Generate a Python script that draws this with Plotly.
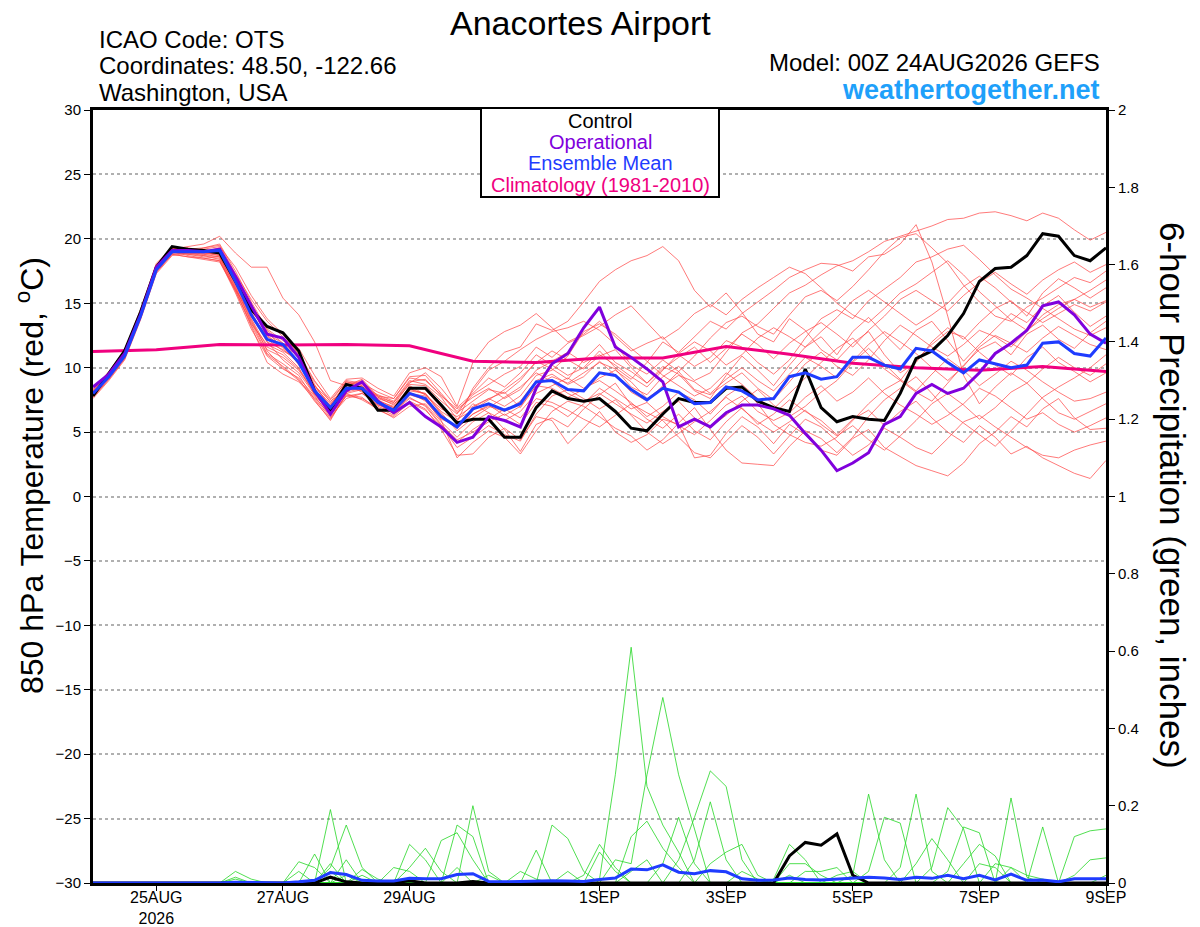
import plotly.graph_objects as go
import pandas as pd

# 6-hourly GEFS output, 00Z 24AUG2026 to 00Z 9SEP2026
times = pd.date_range("2026-08-24 00:00", periods=65, freq="6h")
clim_days = pd.date_range("2026-08-24", periods=17, freq="D")

tick_dates = ["2026-08-25", "2026-08-27", "2026-08-29", "2026-09-01",
              "2026-09-03", "2026-09-05", "2026-09-07", "2026-09-09"]
tick_text = ["25AUG<br>2026", "27AUG", "29AUG", "1SEP", "3SEP", "5SEP", "7SEP", "9SEP"]
temp_ticks = [-30, -25, -20, -15, -10, -5, 0, 5, 10, 15, 20, 25, 30]
precip_ticks = [0, 0.2, 0.4, 0.6, 0.8, 1, 1.2, 1.4, 1.6, 1.8, 2]
precip_labels = ["0", "0.2", "0.4", "0.6", "0.8", "1", "1.2", "1.4", "1.6", "1.8", "2"]

# 850 hPa temperature (C)
control = [7.8, 9.6, 11.3, 14.3, 17.8, 19.4, 19.2, 19.1,
           18.9, 16.7, 14.5, 13.2, 12.7, 11.3, 8.2, 6.7,
           8.7, 8.4, 6.7, 6.7, 8.4, 8.4, 7.1, 5.7,
           6.0, 6.0, 4.6, 4.6, 6.9, 8.2, 7.6, 7.4,
           7.6, 6.6, 5.3, 5.1, 6.4, 7.6, 7.3, 7.3,
           8.4, 8.5, 7.4, 6.9, 6.6, 9.9, 6.9, 5.8,
           6.2, 6.0, 5.9, 8.0, 10.7, 11.3, 12.5, 14.2,
           16.7, 17.7, 17.8, 18.7, 20.4, 20.2, 18.7, 18.3,
           19.3]
operational = [8.5, 9.5, 11.1, 14.1, 17.8, 19.1, 19.1, 19.0,
               19.2, 17.1, 14.8, 12.6, 12.3, 10.8, 8.2, 6.4,
               8.2, 8.9, 7.4, 6.5, 7.3, 6.2, 5.4, 4.2,
               4.6, 6.2, 5.9, 5.4, 8.4, 10.3, 11.1, 13.1,
               14.7, 11.6, 10.8, 9.9, 8.9, 5.4, 6.0, 5.4,
               6.5, 7.1, 7.1, 6.8, 6.3, 4.9, 3.6, 2.0,
               2.6, 3.4, 5.6, 6.2, 8.0, 8.7, 8.0, 8.4,
               9.6, 11.1, 11.9, 12.9, 14.8, 15.1, 14.1, 12.6,
               11.9]
ens_mean = [8.0, 9.3, 10.9, 14.0, 17.6, 19.0, 19.0, 19.0,
            19.1, 16.7, 14.1, 12.2, 11.8, 10.4, 8.2, 6.9,
            8.4, 8.4, 7.3, 6.7, 8.0, 7.6, 6.2, 5.4,
            6.8, 7.2, 6.7, 7.2, 8.9, 9.0, 8.3, 8.2,
            9.6, 9.4, 8.3, 7.5, 8.4, 8.1, 7.2, 7.3,
            8.5, 8.2, 7.5, 7.6, 9.3, 9.6, 9.1, 9.3,
            10.8, 10.8, 10.2, 9.9, 11.5, 11.3, 10.4, 9.6,
            10.6, 10.3, 10.0, 10.2, 11.9, 12.0, 11.1, 10.9,
            12.3]
climatology = [11.25, 11.4, 11.8, 11.75, 11.8, 11.7, 10.5, 10.4, 10.75,
               10.75, 11.65, 11.05, 10.35, 10.0, 9.8, 10.1, 9.7]

t_mem01 = [7.9, 9.4, 11.2, 14.3, 17.9, 19.2, 19.4, 19.6, 20.2, 18.9, 17.8, 17.8, 15.4, 14.1, 12.0, 9.0,
           8.6, 9.1, 7.8, 7.6, 9.2, 9.0, 7.9, 6.5, 7.4, 8.3, 8.0, 9.0, 10.5, 9.9, 9.1, 10.6,
           11.8, 10.4, 9.7, 8.8, 10.1, 9.5, 8.2, 7.6, 9.4, 10.9, 9.8, 8.6, 10.2, 11.6, 12.4, 11.0,
           12.8, 13.9, 12.6, 11.4, 12.9, 13.6, 12.1, 10.5, 11.8, 13.0, 14.2, 13.5, 14.8, 15.6, 14.3, 13.2, 14.0]
t_mem02 = [8.2, 9.6, 11.0, 13.9, 17.5, 19.0, 18.9, 18.8, 18.6, 16.2, 13.6, 11.4, 10.8, 9.8, 8.0, 7.0,
           8.9, 8.6, 7.1, 6.8, 8.3, 8.0, 6.6, 5.8, 8.4, 10.0, 11.2, 11.6, 13.4, 12.9, 13.6, 15.1,
           16.7, 17.6, 18.3, 18.7, 19.4, 18.3, 16.0, 14.7, 15.8, 14.3, 12.6, 12.0, 13.8, 12.9, 11.4, 10.6,
           11.9, 12.8, 11.0, 9.6, 10.4, 12.0, 13.1, 12.2, 13.5, 14.6, 15.2, 14.0, 15.8, 16.9, 16.2, 15.4, 16.2]
t_mem03 = [8.0, 9.2, 10.8, 14.1, 17.7, 19.1, 19.0, 18.9, 18.8, 17.2, 14.9, 12.9, 11.9, 10.2, 8.6, 7.4,
           8.2, 8.9, 7.5, 6.6, 8.6, 7.9, 6.8, 6.2, 7.0, 7.6, 8.1, 6.9, 8.6, 9.3, 8.8, 9.6,
           10.4, 9.9, 8.5, 7.9, 9.3, 10.1, 9.0, 9.6, 11.2, 12.7, 13.4, 14.6, 15.8, 16.4, 17.2, 17.9,
           18.3, 19.0, 19.8, 20.2, 20.6, 21.0, 21.5, 21.6, 22.0, 22.1, 21.8, 21.4, 22.0, 21.6, 20.7, 19.9, 20.5]
t_mem04 = [7.7, 9.1, 10.7, 13.8, 17.4, 18.8, 18.6, 18.4, 18.2, 16.0, 13.2, 10.4, 9.5, 8.9, 7.6, 6.1,
           7.8, 7.6, 6.9, 6.3, 7.4, 6.8, 5.2, 3.2, 3.3, 4.6, 5.3, 4.4, 6.2, 5.9, 4.1, 5.3,
           6.6, 5.0, 4.2, 4.8, 6.0, 5.6, 3.0, 3.2, 4.9, 6.2, 5.4, 4.1, 5.6, 4.8, 3.6, 3.2,
           4.5, 5.2, 3.8, 3.1, 2.4, 2.0, 1.6, 2.6, 4.1, 5.0, 6.2, 5.4, 6.8, 7.6, 6.1, 5.2, 5.3]
t_mem05 = [8.1, 9.5, 11.3, 14.2, 17.8, 19.2, 19.3, 19.1, 19.0, 16.6, 14.0, 12.0, 10.6, 9.6, 7.9, 6.5,
           8.0, 7.5, 6.8, 6.1, 7.0, 7.2, 5.8, 4.6, 5.8, 6.5, 5.2, 3.5, 5.6, 6.1, 5.4, 6.8,
           7.9, 8.8, 7.1, 6.0, 5.3, 6.4, 5.1, 4.4, 5.8, 6.9, 5.6, 6.4, 7.5, 6.6, 5.9, 4.8,
           6.0, 6.7, 5.5, 6.6, 7.4, 6.1, 5.0, 4.2, 5.5, 4.6, 3.3, 3.9, 3.0, 2.4, 1.8, 1.4, 2.8]
t_mem06 = [8.3, 9.7, 11.4, 14.5, 18.1, 19.3, 19.1, 19.2, 19.4, 17.8, 15.6, 13.8, 12.6, 11.0, 8.7, 6.8,
           8.6, 9.0, 7.7, 7.1, 8.8, 9.6, 8.4, 6.9, 8.0, 9.2, 8.5, 9.6, 11.0, 10.2, 9.4, 10.0,
           11.3, 10.0, 9.1, 10.4, 12.0, 11.2, 12.4, 13.6, 13.0, 14.2, 15.1, 16.0, 17.0, 17.6, 18.1, 18.0,
           17.5, 18.6, 18.8, 19.6, 21.1, 18.2, 14.0, 9.4, 7.2, 8.5, 9.6, 8.8, 9.9, 10.8, 10.0, 9.4, 10.3]
t_mem07 = [7.8, 9.3, 10.9, 13.9, 17.6, 18.9, 18.8, 18.6, 18.5, 16.0, 14.3, 12.2, 11.3, 10.6, 8.5, 7.2,
           8.4, 8.2, 7.6, 7.2, 8.1, 7.4, 6.0, 5.5, 6.9, 7.6, 7.0, 7.8, 9.4, 9.8, 10.9, 12.8,
           13.4, 12.6, 11.5, 10.5, 9.4, 8.6, 7.8, 8.4, 9.6, 8.7, 7.6, 6.8, 8.0, 9.2, 10.4, 11.5,
           12.3, 11.0, 9.9, 9.0, 10.6, 11.8, 12.8, 12.4, 11.2, 10.2, 9.4, 10.8, 11.6, 10.4, 9.7, 8.9, 9.6]
t_mem08 = [8.0, 9.3, 11.1, 14.0, 17.6, 18.9, 19.1, 19.0, 19.3, 17.0, 14.6, 12.4, 11.7, 10.9, 8.4, 6.6,
           8.3, 8.4, 7.0, 6.5, 8.0, 7.8, 6.1, 5.3, 6.4, 7.1, 6.3, 7.0, 8.6, 8.4, 7.7, 8.3,
           9.2, 9.8, 8.9, 7.6, 8.5, 9.7, 10.9, 12.3, 13.5, 14.0, 13.2, 12.6, 14.1, 15.5, 16.0, 15.2,
           16.3, 17.6, 19.0, 20.1, 20.4, 19.3, 18.1, 16.4, 15.1, 14.0, 13.6, 14.7, 15.4, 16.2, 17.0, 16.6, 17.5]
t_mem09 = [8.1, 9.4, 11.0, 14.2, 17.7, 19.0, 18.7, 18.5, 18.3, 15.8, 13.0, 10.9, 9.9, 9.2, 7.8, 6.2,
           7.6, 8.0, 7.3, 6.6, 7.6, 7.1, 5.6, 4.4, 5.0, 5.8, 6.4, 5.6, 7.3, 7.0, 6.2, 7.2,
           8.4, 7.6, 6.8, 7.3, 6.2, 5.5, 4.8, 5.9, 7.1, 7.8, 6.6, 5.9, 6.5, 7.7, 8.6, 7.4,
           8.1, 9.2, 8.0, 7.1, 6.4, 5.6, 6.3, 7.2, 8.4, 7.8, 6.9, 6.0, 6.5, 5.6, 5.0, 5.5, 6.1]
t_mem10 = [8.2, 9.5, 11.2, 14.0, 17.8, 19.1, 18.9, 19.3, 19.6, 17.5, 15.1, 13.0, 12.1, 11.5, 9.4, 7.6,
           9.1, 9.2, 8.4, 7.8, 9.6, 10.0, 9.3, 7.0, 10.4, 12.0, 12.8, 13.3, 14.2, 13.1, 12.0, 12.6,
           13.6, 12.4, 11.3, 11.9, 12.4, 11.0, 10.1, 10.8, 12.1, 11.6, 10.4, 9.5, 10.6, 12.3, 13.8, 14.5,
           13.8, 15.2, 16.1, 17.0, 18.2, 18.6, 19.2, 19.5, 18.4, 17.2, 16.1, 15.4, 14.6, 13.8, 13.0, 12.5, 13.1]
t_mem11 = [7.6, 9.0, 10.6, 13.7, 17.3, 18.7, 18.9, 18.9, 18.7, 16.3, 13.5, 11.1, 10.3, 9.4, 7.5, 5.9,
           8.0, 8.3, 7.2, 6.4, 7.9, 7.5, 5.9, 3.0, 4.2, 5.1, 4.6, 3.3, 5.1, 6.6, 7.4, 7.0,
           6.2, 5.3, 4.7, 3.6, 4.4, 5.7, 6.9, 5.2, 3.6, 2.6, 2.5, 2.4, 3.9, 5.1, 4.5, 3.4,
           4.6, 6.2, 7.5, 8.4, 9.3, 8.0, 6.6, 5.7, 4.8, 3.9, 5.1, 6.4, 7.7, 8.5, 9.2, 10.0, 11.0]
t_mem12 = [7.9, 9.3, 10.9, 14.1, 17.5, 18.9, 19.0, 19.1, 19.0, 16.4, 13.8, 11.6, 11.0, 9.9, 8.1, 6.9,
           8.7, 8.1, 7.4, 7.0, 8.5, 8.3, 6.9, 5.9, 7.2, 6.5, 5.9, 6.6, 8.0, 8.6, 9.2, 8.4,
           9.0, 8.2, 7.3, 6.2, 7.0, 8.1, 7.5, 6.4, 7.8, 8.6, 7.2, 5.6, 4.8, 4.2, 3.9, 4.6,
           5.9, 7.2, 8.3, 9.0, 8.1, 7.4, 8.8, 10.2, 11.4, 12.0, 11.0, 12.6, 13.3, 12.2, 11.5, 12.7, 13.6]
t_mem13 = [8.0, 9.4, 11.1, 14.0, 17.6, 19.0, 18.8, 18.7, 18.4, 15.9, 13.4, 11.8, 11.2, 10.0, 7.9, 6.6,
           8.1, 8.4, 7.8, 7.3, 8.7, 8.6, 7.4, 6.4, 8.2, 9.8, 10.5, 11.4, 12.2, 12.8, 13.1, 13.6,
           12.9, 11.8, 10.2, 9.5, 10.6, 9.7, 8.3, 7.9, 8.8, 9.6, 8.4, 7.5, 8.9, 10.3, 11.2, 10.1,
           9.4, 10.6, 12.1, 13.3, 12.5, 11.6, 10.9, 11.8, 12.9, 12.4, 11.6, 12.8, 14.1, 14.9, 15.3, 16.0, 16.8]
t_mem14 = [7.8, 9.2, 10.8, 13.8, 17.4, 18.8, 18.6, 18.5, 18.3, 16.1, 13.3, 11.0, 10.1, 9.1, 7.4, 6.0,
           7.9, 7.7, 6.7, 6.2, 7.3, 6.7, 5.4, 4.2, 5.2, 6.0, 6.8, 6.1, 7.6, 7.3, 6.7, 6.0,
           5.4, 6.3, 7.2, 6.5, 5.9, 4.6, 3.4, 3.0, 4.3, 5.5, 4.6, 3.3, 4.7, 6.0, 5.4, 4.3,
           3.2, 4.0, 5.3, 4.6, 3.8, 3.3, 4.5, 5.8, 6.3, 5.4, 4.6, 3.8, 3.2, 3.0, 3.6, 4.0, 4.3]
t_mem15 = [8.3, 9.6, 11.3, 14.4, 18.0, 19.2, 19.0, 18.8, 18.9, 16.8, 14.4, 12.8, 11.5, 10.3, 8.3, 7.1,
           8.8, 8.5, 7.9, 7.4, 9.0, 8.7, 7.7, 6.0, 6.7, 7.5, 8.3, 9.2, 10.4, 11.3, 10.6, 9.9,
           10.9, 11.4, 10.0, 8.8, 9.9, 10.8, 11.6, 10.4, 11.5, 12.6, 11.8, 10.7, 11.9, 12.8, 13.5, 12.6,
           11.6, 12.9, 14.0, 15.3, 16.0, 15.2, 14.4, 15.6, 16.6, 17.4, 16.5, 15.7, 16.8, 17.6, 18.2, 17.4, 18.0]
t_mem16 = [7.7, 9.1, 10.7, 13.9, 17.5, 18.9, 19.2, 19.0, 18.7, 16.5, 14.2, 12.0, 11.4, 10.5, 8.2, 6.4,
           8.2, 8.6, 7.5, 6.9, 8.4, 7.9, 6.5, 5.1, 6.1, 6.9, 7.7, 8.5, 9.6, 8.9, 8.0, 7.4,
           8.0, 7.2, 6.4, 5.7, 6.6, 7.4, 6.1, 5.4, 6.3, 7.4, 8.3, 7.1, 6.2, 7.0, 8.1, 9.0,
           10.4, 11.5, 10.3, 9.1, 8.2, 9.5, 10.7, 9.8, 8.6, 9.5, 10.5, 9.8, 8.9, 8.1, 7.4, 7.6, 8.1]
t_mem17 = [8.1, 9.4, 11.1, 14.2, 17.7, 19.1, 19.2, 19.3, 19.5, 17.3, 15.3, 13.6, 12.4, 11.1, 9.0, 7.3,
           9.0, 8.8, 8.1, 7.6, 9.3, 9.4, 8.0, 6.6, 7.9, 8.7, 9.5, 10.1, 11.6, 10.8, 11.9, 12.5,
           13.2, 14.1, 14.8, 13.5, 12.2, 13.0, 14.2, 14.9, 14.1, 15.3, 16.2, 17.0, 17.8, 17.3, 16.2, 15.0,
           14.1, 13.5, 14.6, 15.8, 16.5, 17.4, 18.3, 17.2, 15.9, 14.8, 13.7, 12.9, 13.8, 14.6, 15.3, 14.7, 15.2]
t_mem18 = [7.9, 9.3, 11.0, 14.1, 17.6, 19.0, 18.9, 18.7, 18.6, 16.2, 13.7, 11.3, 10.0, 9.0, 7.7, 6.3,
           7.8, 8.0, 7.1, 6.7, 7.7, 7.0, 5.5, 3.8, 4.6, 5.5, 4.8, 4.3, 6.4, 7.8, 8.3, 7.6,
           6.8, 7.5, 6.3, 5.0, 4.1, 4.9, 5.8, 6.6, 7.7, 6.8, 5.8, 5.0, 5.8, 6.7, 5.6, 4.7,
           5.5, 4.4, 3.6, 4.7, 5.9, 7.2, 8.0, 7.1, 6.0, 6.9, 8.1, 8.8, 7.6, 6.5, 6.0, 6.6, 7.2]
t_mem19 = [8.2, 9.5, 11.2, 14.3, 17.9, 19.3, 19.1, 19.0, 18.9, 16.9, 14.8, 12.6, 11.9, 10.9, 8.9, 7.5,
           8.9, 8.7, 7.7, 7.3, 8.9, 9.1, 7.8, 6.8, 7.7, 8.4, 7.6, 8.3, 9.8, 10.5, 11.2, 10.4,
           11.0, 10.2, 9.3, 8.5, 9.8, 11.1, 12.0, 11.3, 10.2, 11.0, 12.3, 13.1, 12.4, 11.6, 12.8, 13.9,
           15.2, 16.0, 15.1, 14.2, 13.3, 14.1, 15.0, 16.3, 17.1, 16.2, 15.1, 14.3, 13.5, 14.2, 14.9, 14.4, 15.1]
t_mem20 = [8.0, 9.4, 11.0, 14.0, 17.6, 19.1, 19.0, 19.0, 19.1, 16.7, 14.0, 12.5, 11.6, 10.4, 8.6, 7.0,
           8.5, 8.3, 7.3, 6.9, 8.2, 8.0, 6.4, 5.3, 6.4, 7.0, 6.6, 7.4, 9.0, 9.5, 8.7, 9.3,
           10.5, 9.4, 8.1, 7.4, 8.6, 9.4, 8.9, 8.0, 9.1, 10.0, 9.0, 8.2, 9.5, 10.8, 10.1, 9.2,
           10.5, 11.8, 12.8, 12.0, 11.1, 10.0, 9.0, 10.1, 11.6, 12.5, 11.9, 11.2, 12.3, 13.2, 12.5, 11.8, 11.4]

# 6-hour precipitation (inches)
control_precip = [0, 0, 0, 0, 0, 0, 0, 0, 0, 0, 0, 0, 0, 0, 0, 0.015,
                  0.003, 0, 0, 0, 0.006, 0, 0, 0, 0.004, 0, 0, 0, 0, 0, 0, 0,
                  0, 0, 0, 0, 0, 0, 0, 0, 0, 0, 0, 0, 0.07, 0.105, 0.098, 0.127,
                  0.02, 0, 0, 0, 0, 0, 0, 0, 0, 0, 0, 0, 0, 0, 0, 0, 0]
mean_precip = [0, 0, 0, 0, 0, 0, 0, 0, 0, 0.002, 0.001, 0, 0, 0.003, 0.007, 0.027,
               0.022, 0.007, 0.005, 0.005, 0.012, 0.011, 0.011, 0.022, 0.024, 0.004, 0.003, 0.004, 0.005, 0.006, 0.005, 0.004,
               0.009, 0.013, 0.036, 0.034, 0.047, 0.028, 0.024, 0.032, 0.029, 0.011, 0.007, 0.008, 0.013, 0.009, 0.008, 0.01,
               0.013, 0.015, 0.013, 0.009, 0.015, 0.012, 0.02, 0.011, 0.02, 0.008, 0.023, 0.007, 0.008, 0.003, 0.011, 0.011, 0.011]

p_mem01 = [0, 0, 0, 0, 0, 0, 0, 0, 0, 0.03, 0.01, 0, 0, 0, 0, 0,
           0, 0, 0, 0, 0, 0, 0, 0, 0, 0, 0, 0, 0, 0, 0, 0.02,
           0.1, 0.04, 0, 0, 0, 0, 0, 0, 0, 0, 0, 0, 0, 0, 0, 0,
           0, 0, 0, 0, 0, 0, 0.03, 0.145, 0.13, 0, 0, 0, 0, 0, 0, 0, 0]
p_mem02 = [0, 0, 0, 0, 0, 0, 0, 0, 0, 0.015, 0, 0, 0, 0, 0, 0,
           0, 0, 0, 0, 0, 0, 0, 0, 0, 0, 0, 0, 0, 0, 0, 0,
           0.08, 0.03, 0, 0, 0, 0, 0, 0, 0, 0, 0, 0, 0, 0, 0, 0,
           0, 0, 0, 0, 0, 0, 0, 0.05, 0.1, 0.07, 0, 0, 0, 0, 0, 0, 0]
p_mem03 = [0, 0, 0, 0, 0, 0, 0, 0, 0, 0.01, 0, 0, 0, 0, 0, 0,
           0, 0, 0, 0, 0, 0, 0, 0, 0, 0, 0, 0, 0, 0, 0, 0,
           0.01, 0.28, 0.61, 0.25, 0.15, 0.08, 0, 0, 0, 0, 0, 0, 0, 0, 0, 0,
           0, 0, 0, 0, 0, 0, 0, 0, 0.05, 0.04, 0, 0, 0, 0, 0, 0, 0]
p_mem04 = [0, 0, 0, 0, 0, 0, 0, 0, 0, 0, 0, 0, 0, 0.055, 0.04, 0,
           0, 0, 0, 0, 0, 0, 0, 0, 0, 0, 0, 0, 0, 0, 0, 0,
           0, 0.06, 0.05, 0.28, 0.48, 0.28, 0.14, 0, 0, 0, 0, 0, 0, 0, 0, 0,
           0, 0, 0, 0, 0, 0, 0, 0, 0, 0.05, 0.04, 0, 0, 0, 0, 0, 0]
p_mem05 = [0, 0, 0, 0, 0, 0, 0, 0, 0, 0, 0, 0, 0, 0.03, 0, 0.05,
           0, 0, 0, 0, 0, 0, 0, 0, 0, 0, 0, 0, 0, 0, 0, 0,
           0, 0, 0.12, 0.16, 0.09, 0.04, 0, 0, 0, 0, 0, 0, 0, 0, 0, 0,
           0, 0, 0, 0, 0, 0, 0, 0, 0, 0, 0.22, 0.015, 0, 0, 0, 0, 0]
p_mem06 = [0, 0, 0, 0, 0, 0, 0, 0, 0, 0, 0, 0, 0, 0, 0.075, 0,
           0.06, 0, 0, 0, 0, 0, 0, 0, 0, 0, 0, 0, 0, 0, 0, 0,
           0, 0, 0.03, 0.06, 0, 0, 0, 0, 0, 0, 0, 0, 0, 0, 0, 0,
           0, 0, 0, 0, 0, 0, 0, 0, 0, 0, 0.04, 0.02, 0.01, 0, 0, 0, 0]
p_mem07 = [0, 0, 0, 0, 0, 0, 0, 0, 0, 0, 0, 0, 0, 0, 0, 0.19,
           0, 0.02, 0, 0, 0, 0, 0, 0, 0, 0, 0, 0, 0, 0, 0, 0,
           0, 0, 0, 0, 0.05, 0.17, 0.05, 0, 0, 0, 0, 0, 0, 0, 0, 0,
           0, 0, 0, 0, 0, 0, 0, 0, 0, 0, 0, 0, 0.145, 0, 0, 0, 0]
p_mem08 = [0, 0, 0, 0, 0, 0, 0, 0, 0, 0, 0, 0, 0, 0, 0, 0.04,
           0.15, 0.04, 0, 0, 0, 0, 0, 0, 0, 0, 0, 0, 0, 0, 0, 0,
           0, 0, 0, 0, 0, 0.06, 0.17, 0.29, 0.25, 0.06, 0, 0, 0, 0, 0, 0,
           0, 0, 0, 0, 0, 0, 0, 0, 0, 0, 0, 0, 0, 0, 0.12, 0.135, 0.14]
p_mem09 = [0, 0, 0, 0, 0, 0, 0, 0, 0, 0, 0, 0, 0, 0, 0, 0.03,
           0, 0, 0, 0, 0, 0, 0, 0, 0, 0, 0, 0, 0, 0, 0, 0,
           0, 0, 0, 0, 0, 0, 0.06, 0.21, 0.06, 0, 0, 0, 0, 0, 0, 0,
           0, 0, 0, 0, 0, 0, 0, 0, 0, 0, 0, 0, 0, 0, 0.02, 0.06, 0.065]
p_mem10 = [0, 0, 0, 0, 0, 0, 0, 0, 0, 0, 0, 0, 0, 0, 0, 0,
           0.02, 0, 0, 0, 0, 0, 0, 0, 0, 0, 0, 0, 0, 0, 0, 0,
           0, 0, 0, 0, 0, 0, 0, 0.05, 0.08, 0.1, 0.02, 0, 0, 0, 0, 0,
           0, 0, 0, 0, 0, 0, 0, 0, 0, 0, 0, 0, 0, 0, 0, 0, 0.02]
p_mem11 = [0, 0, 0, 0, 0, 0, 0, 0, 0, 0, 0, 0, 0, 0, 0, 0,
           0, 0.035, 0.01, 0, 0, 0, 0, 0, 0, 0, 0, 0, 0, 0, 0, 0,
           0, 0, 0, 0, 0, 0, 0, 0, 0, 0.03, 0.01, 0, 0.02, 0, 0, 0,
           0, 0, 0, 0, 0, 0, 0, 0, 0, 0, 0, 0, 0, 0, 0, 0, 0]
p_mem12 = [0, 0, 0, 0, 0, 0, 0, 0, 0, 0, 0, 0, 0, 0, 0, 0,
           0, 0, 0, 0.04, 0.03, 0, 0, 0, 0, 0, 0, 0, 0, 0, 0, 0,
           0, 0, 0, 0, 0, 0, 0, 0, 0, 0, 0, 0.01, 0.1, 0.06, 0, 0,
           0, 0, 0, 0, 0, 0, 0, 0, 0, 0, 0, 0, 0, 0, 0, 0, 0]
p_mem13 = [0, 0, 0, 0, 0, 0, 0, 0, 0, 0, 0, 0, 0, 0, 0, 0,
           0, 0, 0, 0, 0.1, 0.06, 0, 0.04, 0, 0, 0, 0, 0, 0, 0, 0,
           0, 0, 0, 0, 0, 0, 0, 0, 0, 0, 0, 0, 0.05, 0.05, 0.02, 0,
           0, 0, 0, 0, 0, 0, 0, 0, 0, 0, 0, 0, 0, 0, 0, 0, 0]
p_mem14 = [0, 0, 0, 0, 0, 0, 0, 0, 0, 0, 0, 0, 0, 0, 0, 0,
           0, 0, 0, 0, 0.04, 0.09, 0.03, 0, 0, 0, 0, 0, 0, 0, 0, 0,
           0, 0, 0, 0, 0, 0, 0, 0, 0, 0, 0, 0, 0, 0.03, 0.03, 0.04,
           0, 0, 0, 0, 0, 0, 0, 0, 0, 0, 0, 0, 0, 0, 0, 0, 0]
p_mem15 = [0, 0, 0, 0, 0, 0, 0, 0, 0, 0, 0, 0, 0, 0, 0, 0,
           0, 0, 0, 0, 0, 0, 0.11, 0.13, 0.06, 0, 0, 0, 0, 0, 0, 0,
           0, 0, 0, 0, 0, 0, 0, 0, 0, 0, 0, 0, 0, 0, 0, 0.02,
           0.03, 0, 0, 0, 0, 0, 0, 0, 0, 0, 0, 0, 0, 0, 0, 0, 0]
p_mem16 = [0, 0, 0, 0, 0, 0, 0, 0, 0, 0, 0, 0, 0, 0, 0, 0,
           0, 0, 0, 0, 0, 0, 0, 0.15, 0.12, 0, 0, 0, 0, 0, 0, 0,
           0, 0, 0, 0, 0, 0, 0, 0, 0, 0, 0, 0, 0, 0, 0, 0,
           0.02, 0.23, 0.06, 0, 0, 0, 0, 0, 0, 0, 0, 0, 0, 0, 0, 0, 0]
p_mem17 = [0, 0, 0, 0, 0, 0, 0, 0, 0, 0, 0, 0, 0, 0, 0, 0,
           0, 0, 0, 0, 0, 0, 0, 0, 0.2, 0.03, 0, 0, 0, 0, 0, 0,
           0, 0, 0, 0, 0, 0, 0, 0, 0, 0, 0, 0, 0, 0, 0, 0,
           0, 0.03, 0.17, 0.155, 0, 0, 0, 0, 0, 0, 0, 0, 0, 0, 0, 0, 0]
p_mem18 = [0, 0, 0, 0, 0, 0, 0, 0, 0, 0, 0, 0, 0, 0, 0, 0,
           0, 0, 0, 0, 0, 0, 0, 0, 0, 0.02, 0, 0.03, 0.01, 0, 0, 0,
           0, 0, 0, 0, 0, 0, 0, 0, 0, 0, 0, 0, 0, 0, 0, 0,
           0, 0, 0, 0.04, 0.23, 0.03, 0, 0, 0, 0, 0, 0, 0, 0, 0, 0, 0]
p_mem19 = [0, 0, 0, 0, 0, 0, 0, 0, 0, 0, 0, 0, 0, 0, 0, 0,
           0, 0, 0, 0, 0, 0, 0, 0, 0, 0, 0, 0, 0.085, 0, 0.03, 0,
           0, 0, 0, 0, 0, 0, 0, 0, 0, 0, 0, 0, 0, 0, 0, 0,
           0, 0, 0, 0, 0.05, 0.115, 0.06, 0, 0, 0, 0, 0, 0, 0, 0, 0, 0]
p_mem20 = [0, 0, 0, 0, 0, 0, 0, 0, 0, 0, 0, 0, 0, 0, 0, 0,
           0, 0, 0, 0, 0, 0, 0, 0, 0, 0, 0, 0, 0, 0.15, 0.115, 0.03,
           0, 0, 0, 0, 0, 0, 0, 0, 0, 0, 0, 0, 0, 0, 0, 0,
           0, 0, 0, 0, 0, 0.04, 0.195, 0.14, 0, 0, 0, 0, 0, 0, 0, 0, 0]

temp_members = [t_mem01, t_mem02, t_mem03, t_mem04, t_mem05, t_mem06, t_mem07, t_mem08, t_mem09, t_mem10,
                t_mem11, t_mem12, t_mem13, t_mem14, t_mem15, t_mem16, t_mem17, t_mem18, t_mem19, t_mem20]
precip_members = [p_mem01, p_mem02, p_mem03, p_mem04, p_mem05, p_mem06, p_mem07, p_mem08, p_mem09, p_mem10,
                  p_mem11, p_mem12, p_mem13, p_mem14, p_mem15, p_mem16, p_mem17, p_mem18, p_mem19, p_mem20]

FONT = "Liberation Sans, Arial, Helvetica, sans-serif"
RED = "rgba(255,70,70,0.8)"
GREEN = "rgba(40,215,40,0.9)"
PURPLE = "#8000dc"
BLUE = "#1f3cff"
PINK = "#f0007f"

fig = go.Figure()

for m in precip_members:
    fig.add_trace(go.Scatter(x=times, y=m, yaxis="y2", mode="lines",
                             line=dict(color=GREEN, width=0.9)))
fig.add_trace(go.Scatter(x=times, y=control_precip, yaxis="y2", mode="lines",
                         line=dict(color="black", width=3)))
fig.add_trace(go.Scatter(x=times, y=mean_precip, yaxis="y2", mode="lines",
                         line=dict(color=BLUE, width=3)))

for m in temp_members:
    fig.add_trace(go.Scatter(x=times, y=m, mode="lines",
                             line=dict(color=RED, width=0.9)))
fig.add_trace(go.Scatter(x=clim_days, y=climatology, mode="lines",
                         line=dict(color=PINK, width=3)))
fig.add_trace(go.Scatter(x=times, y=control, mode="lines",
                         line=dict(color="black", width=3)))
fig.add_trace(go.Scatter(x=times, y=operational, mode="lines",
                         line=dict(color=PURPLE, width=3)))
fig.add_trace(go.Scatter(x=times, y=ens_mean, mode="lines",
                         line=dict(color=BLUE, width=3)))

# page pixels of the plot frame (left 93, right 1106, top 110, bottom 883)
def px(x):
    return (x - 93) / 1013.0


def py(y):
    return (883 - y) / 773.0


annotations = [
    dict(text="Anacortes Airport", x=px(580), y=py(23), font=dict(size=34)),
    dict(text="ICAO Code: OTS", x=px(97), y=py(40), xanchor="left", font=dict(size=24)),
    dict(text="Coordinates: 48.50, -122.66", x=px(97), y=py(66), xanchor="left", font=dict(size=24)),
    dict(text="Washington, USA", x=px(97), y=py(93), xanchor="left", font=dict(size=24)),
    dict(text="Model: 00Z 24AUG2026 GEFS", x=px(1102), y=py(62), xanchor="right", font=dict(size=24)),
    dict(text="<b>weathertogether.net</b>", x=px(1102), y=py(90), xanchor="right",
         font=dict(size=27, color="#1ea0fa")),
    dict(text="Control", x=px(600), y=py(121), font=dict(size=20)),
    dict(text="Operational", x=px(600), y=py(142), font=dict(size=20, color=PURPLE)),
    dict(text="Ensemble Mean", x=px(600), y=py(163), font=dict(size=20, color=BLUE)),
    dict(text="Climatology (1981-2010)", x=px(600), y=py(185), font=dict(size=20, color=PINK)),
    dict(text="850 hPa Temperature (red, <sup>o</sup>C)", x=px(30), y=py(476), textangle=-90,
         font=dict(size=32)),
    dict(text="6-hour Precipitation (green, inches)", x=px(1173), y=py(495), textangle=90,
         font=dict(size=35)),
]
for a in annotations:
    a.update(xref="paper", yref="paper", showarrow=False)
    a.setdefault("xanchor", "center")
    a["yanchor"] = "middle"

# the page body adds an 8px offset, so margins are set 8px less on top/left
fig.update_layout(
    width=1200, height=927,
    margin=dict(l=85, r=102, t=102, b=52),
    paper_bgcolor="white", plot_bgcolor="white",
    showlegend=False,
    font=dict(family=FONT, color="black"),
    annotations=annotations,
    shapes=[dict(type="rect", xref="paper", yref="paper",
                 x0=px(481), x1=px(719), y0=py(197), y1=py(108),
                 line=dict(color="black", width=2), fillcolor="white", layer="above")],
    xaxis=dict(type="date", range=[times[0], times[-1]], automargin=False,
               tickvals=tick_dates, ticktext=tick_text, tickfont=dict(size=16),
               ticks="outside", ticklen=5, tickcolor="black", ticklabelstandoff=-7,
               showgrid=False, zeroline=False,
               showline=True, linecolor="black", linewidth=3, mirror=True),
    yaxis=dict(range=[-30, 30], tickvals=temp_ticks, tickfont=dict(size=15), automargin=False,
               ticks="outside", ticklen=6, tickcolor="black",
               showgrid=True, gridcolor="#b0b0b0", griddash="dot", gridwidth=1.5,
               zeroline=False, showline=True, linecolor="black", linewidth=3),
    yaxis2=dict(range=[0, 2], overlaying="y", side="right", automargin=False,
                tickvals=precip_ticks, ticktext=precip_labels, tickfont=dict(size=15),
                ticks="outside", ticklen=6, tickcolor="black",
                showgrid=False, zeroline=False,
                showline=True, linecolor="black", linewidth=3),
)

fig.write_html("out.html")
